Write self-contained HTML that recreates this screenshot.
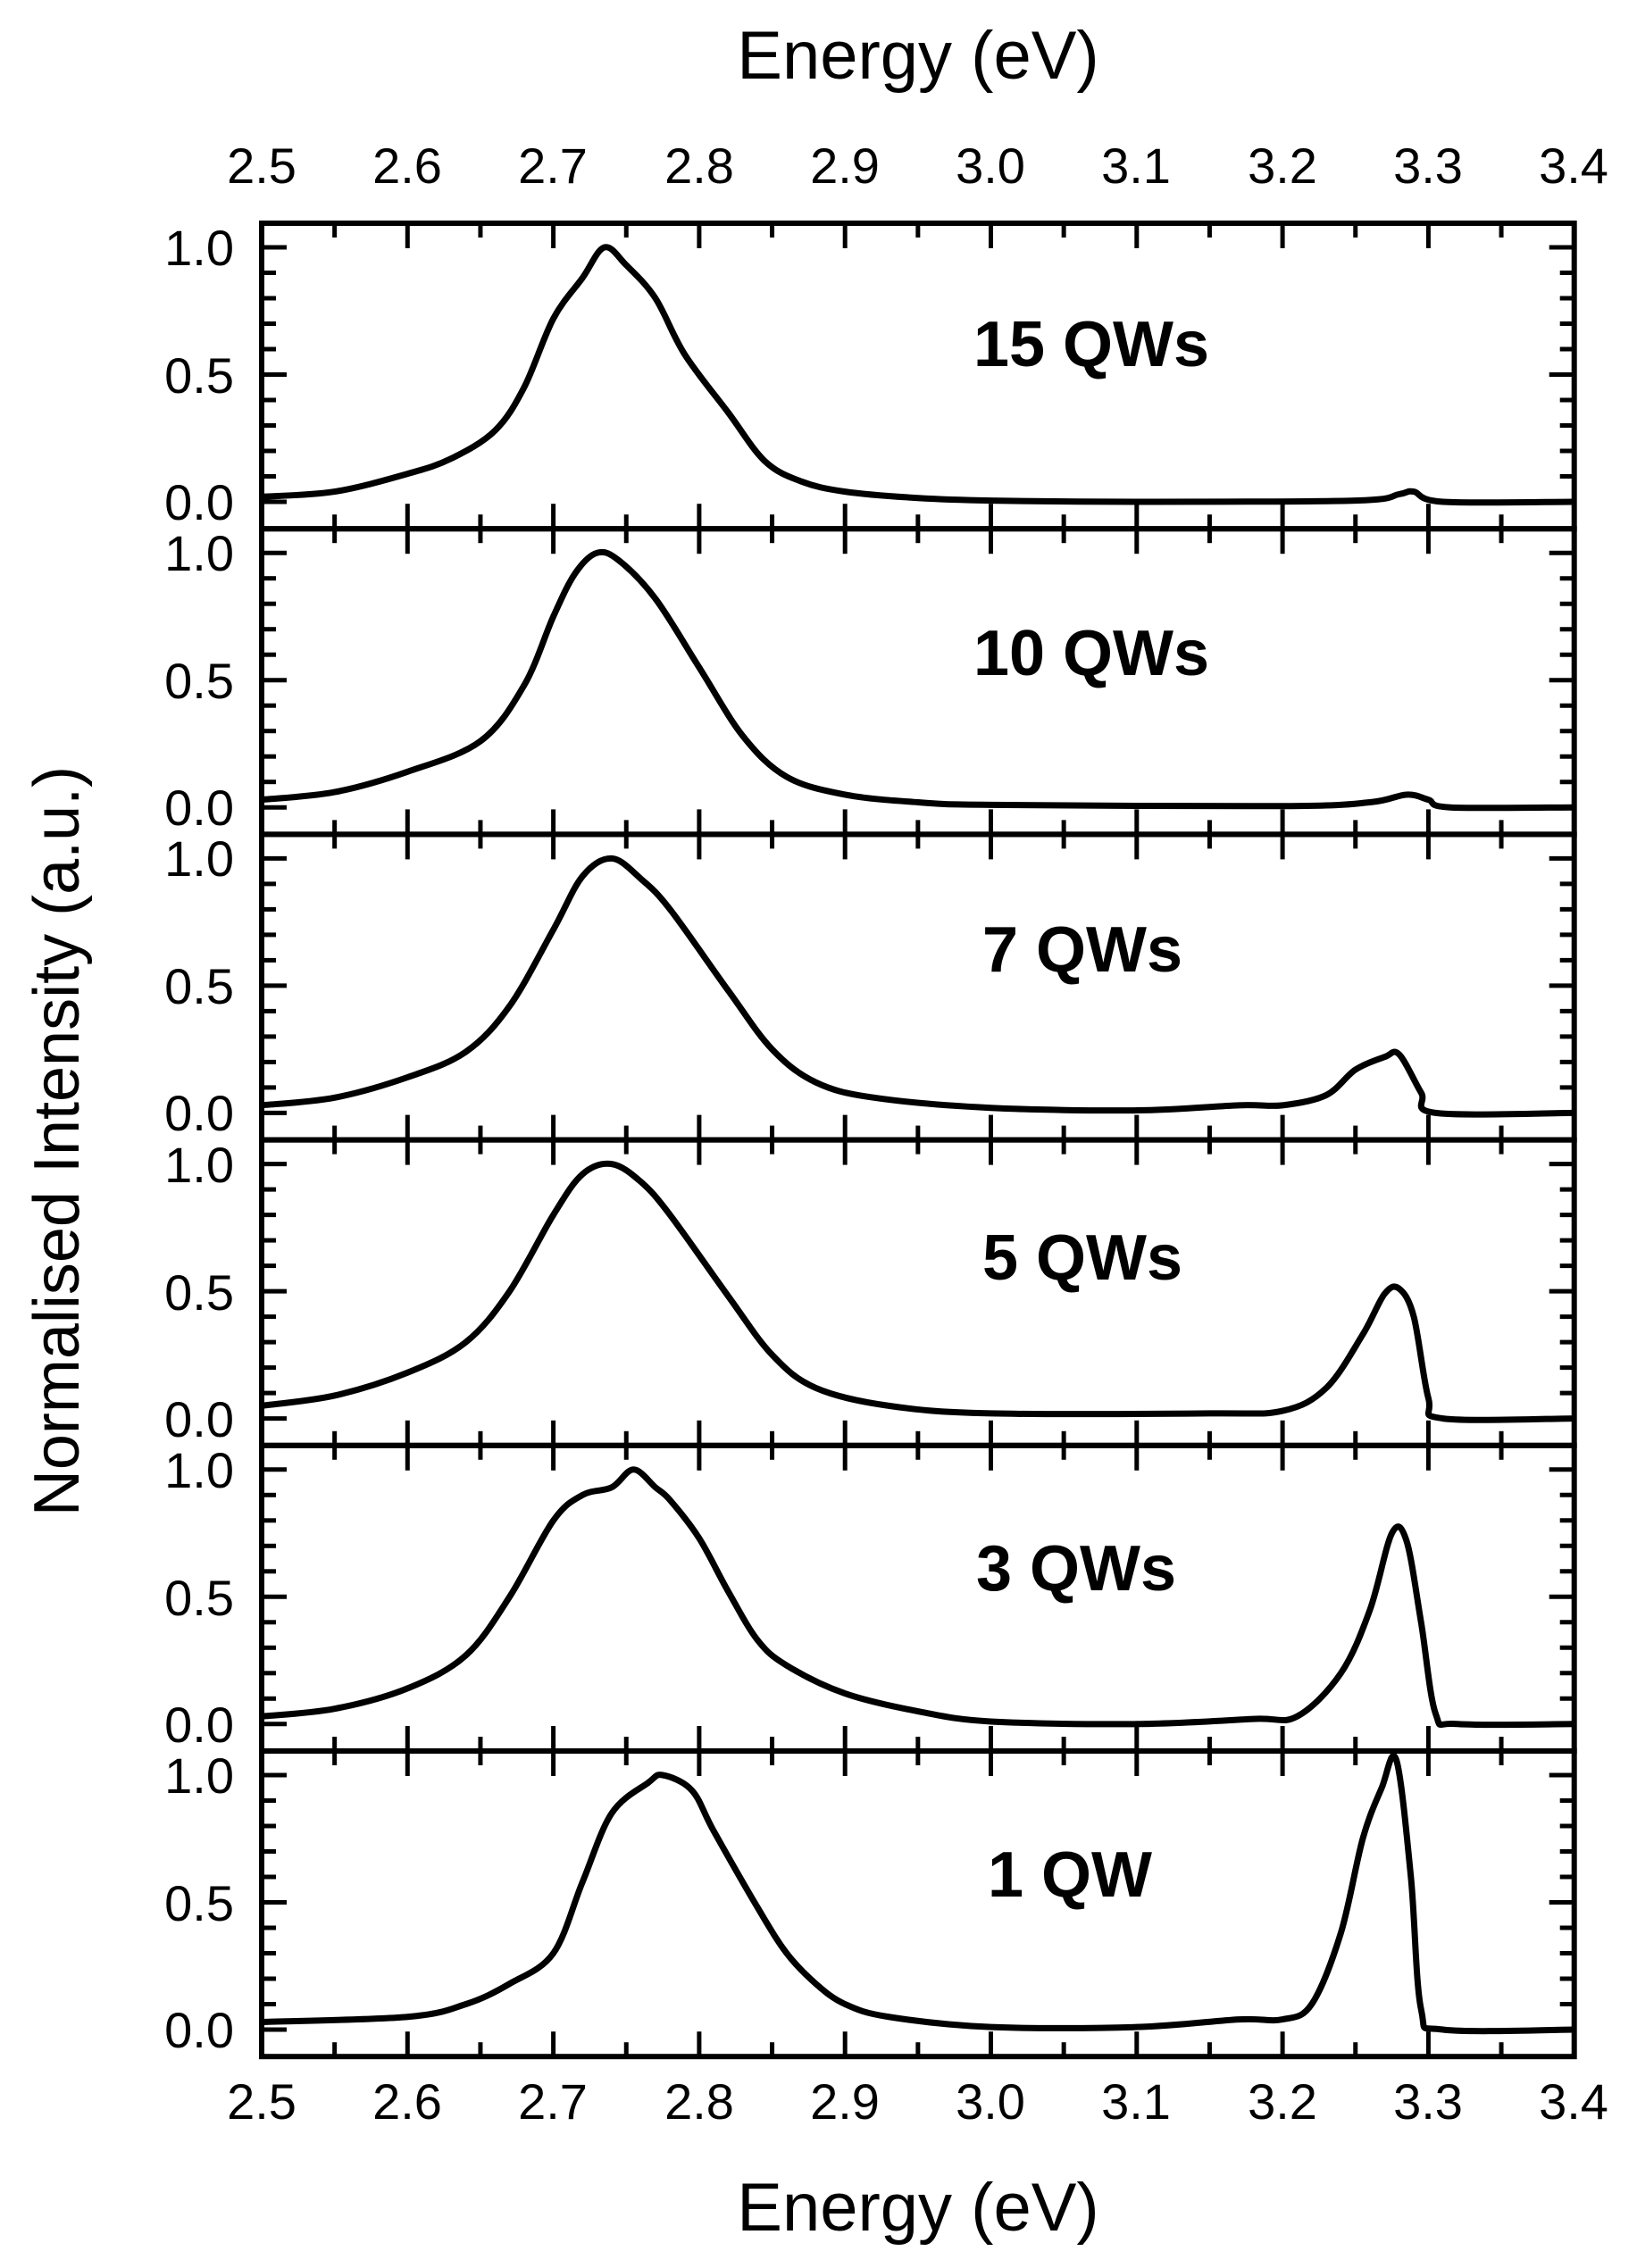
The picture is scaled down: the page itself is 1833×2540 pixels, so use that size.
<!DOCTYPE html>
<html><head><meta charset="utf-8"><style>
html,body{margin:0;padding:0;background:#fff}
svg{display:block}
text{font-family:"Liberation Sans",Arial,sans-serif;fill:#000}
</style></head><body>
<svg id="s" width="1833" height="2540" viewBox="0 0 1833 2540" xmlns="http://www.w3.org/2000/svg">
<rect width="1833" height="2540" fill="#fff"/>
<text x="1028" y="88" font-size="76" text-anchor="middle">Energy (eV)</text>
<text x="1028" y="2498" font-size="76" text-anchor="middle">Energy (eV)</text>
<text transform="translate(88,1278) rotate(-90)" font-size="72" text-anchor="middle">Normalised Intensity (a.u.)</text>
<g id="xl" font-size="56" text-anchor="middle">
<text x="293" y="205">2.5</text><text x="456" y="205">2.6</text><text x="619" y="205">2.7</text><text x="783" y="205">2.8</text><text x="946" y="205">2.9</text><text x="1109" y="205">3.0</text><text x="1272" y="205">3.1</text><text x="1436" y="205">3.2</text><text x="1599" y="205">3.3</text><text x="1762" y="205">3.4</text>
<text x="293" y="2373">2.5</text><text x="456" y="2373">2.6</text><text x="619" y="2373">2.7</text><text x="783" y="2373">2.8</text><text x="946" y="2373">2.9</text><text x="1109" y="2373">3.0</text><text x="1272" y="2373">3.1</text><text x="1436" y="2373">3.2</text><text x="1599" y="2373">3.3</text><text x="1762" y="2373">3.4</text>
</g>
<g font-size="56" text-anchor="end">
<text x="262" y="297">1.0</text><text x="262" y="440">0.5</text><text x="262" y="582">0.0</text>
<text x="262" y="639">1.0</text><text x="262" y="782">0.5</text><text x="262" y="924">0.0</text>
<text x="262" y="981">1.0</text><text x="262" y="1124">0.5</text><text x="262" y="1266">0.0</text>
<text x="262" y="1324">1.0</text><text x="262" y="1467">0.5</text><text x="262" y="1609">0.0</text>
<text x="262" y="1666">1.0</text><text x="262" y="1809">0.5</text><text x="262" y="1951">0.0</text>
<text x="262" y="2008">1.0</text><text x="262" y="2151">0.5</text><text x="262" y="2293">0.0</text>
</g>
<g font-size="72" font-weight="bold" text-anchor="middle">
<text x="1222" y="410">15 QWs</text>
<text x="1222" y="756">10 QWs</text>
<text x="1212" y="1088">7 QWs</text>
<text x="1212" y="1433">5 QWs</text>
<text x="1205" y="1781">3 QWs</text>
<text x="1198" y="2124">1 QW</text>
</g>
<g id="g"></g>
</svg>
<script>
(function(){
var X0=293,SX=1633,T0=250,PH=342.2;
function xp(v){return X0+(v-2.5)*SX;}
var NS='http://www.w3.org/2000/svg';
var g=document.getElementById('g');
function el(tag,attrs){var n=document.createElementNS(NS,tag);for(var k in attrs)n.setAttribute(k,attrs[k]);g.appendChild(n);}
var data=[
[[2.5,.02],[2.55,.04],[2.6,.11],[2.63,.17],[2.66,.28],[2.68,.45],[2.70,.72],[2.72,.88],[2.735,1.0],[2.75,.93],[2.77,.80],[2.79,.58],[2.82,.35],[2.845,.16],[2.87,.08],[2.9,.04],[2.95,.015],[3.0,.005],[3.1,0],[3.25,.005],[3.28,.03],[3.29,.04],[3.31,0],[3.4,0]],
[[2.5,.03],[2.55,.06],[2.6,.14],[2.65,.26],[2.68,.48],[2.70,.75],[2.715,.92],[2.73,1.0],[2.745,.97],[2.77,.82],[2.80,.55],[2.83,.28],[2.86,.12],[2.9,.05],[2.95,.02],[3.0,.01],[3.2,.005],[3.26,.02],[3.285,.05],[3.30,.03],[3.315,0],[3.4,0]],
[[2.5,.03],[2.55,.06],[2.6,.14],[2.64,.24],[2.67,.42],[2.70,.72],[2.72,.93],[2.74,1.0],[2.76,.92],[2.78,.80],[2.82,.48],[2.85,.25],[2.88,.12],[2.92,.06],[3.0,.02],[3.1,.01],[3.17,.03],[3.2,.03],[3.23,.07],[3.25,.17],[3.27,.22],[3.28,.23],[3.295,.08],[3.305,0],[3.4,0]],
[[2.5,.05],[2.55,.09],[2.6,.18],[2.64,.30],[2.67,.50],[2.70,.80],[2.72,.96],[2.74,1.0],[2.76,.93],[2.78,.80],[2.82,.48],[2.85,.25],[2.88,.12],[2.93,.05],[3.0,.02],[3.15,.02],[3.2,.03],[3.23,.12],[3.255,.33],[3.27,.49],[3.28,.51],[3.29,.40],[3.30,.08],[3.31,0],[3.4,0]],
[[2.5,.03],[2.55,.06],[2.6,.14],[2.64,.27],[2.67,.50],[2.70,.80],[2.72,.90],[2.74,.93],[2.755,1.0],[2.77,.93],[2.78,.88],[2.80,.73],[2.82,.52],[2.84,.33],[2.86,.23],[2.9,.12],[2.95,.05],[3.0,.01],[3.1,0],[3.18,.02],[3.21,.03],[3.24,.2],[3.26,.45],[3.275,.75],[3.285,.72],[3.295,.40],[3.305,.04],[3.32,0],[3.4,0]],
[[2.5,.03],[2.6,.05],[2.64,.10],[2.67,.18],[2.70,.30],[2.72,.58],[2.74,.85],[2.765,.97],[2.775,1.0],[2.795,.94],[2.81,.78],[2.84,.48],[2.86,.30],[2.88,.18],[2.9,.10],[2.93,.05],[3.0,.01],[3.1,.01],[3.17,.04],[3.2,.04],[3.22,.10],[3.24,.38],[3.255,.75],[3.268,.95],[3.278,1.06],[3.288,.6],[3.295,.08],[3.31,0],[3.4,0]]
];
for(var i=0;i<6;i++){
 var tp=T0+PH*i,bt=tp+PH,y1=tp+27,y0=tp+312,sy=y0-y1;
 for(var k=0;k<=18;k++){var x=X0+k*SX*0.05,L=(k%2==0)?28:16;
  el('line',{x1:x,y1:tp,x2:x,y2:tp+L,stroke:'#000','stroke-width':5});
  el('line',{x1:x,y1:bt,x2:x,y2:bt-L,stroke:'#000','stroke-width':5});}
 for(var k=0;k<=10;k++){var y=y0-k*sy/10,L=(k%5==0)?28:16;
  el('line',{x1:X0,y1:y,x2:X0+L,y2:y,stroke:'#000','stroke-width':5});
  el('line',{x1:X0+SX*0.9,y1:y,x2:X0+SX*0.9-L,y2:y,stroke:'#000','stroke-width':5});}
 var p=data[i].map(function(a){return [xp(a[0]),y0-a[1]*sy];});
 var d='M'+p[0][0]+','+p[0][1];
 for(var j=0;j<p.length-1;j++){var a=p[Math.max(0,j-1)],b=p[j],c=p[j+1],q=p[Math.min(p.length-1,j+2)];
  d+=' C'+(b[0]+(c[0]-a[0])/6)+','+(b[1]+(c[1]-a[1])/6)+' '+(c[0]-(q[0]-b[0])/6)+','+(c[1]-(q[1]-b[1])/6)+' '+c[0]+','+c[1];}
 el('path',{d:d,fill:'none',stroke:'#000','stroke-width':7,'stroke-linejoin':'round'});
 el('rect',{x:X0,y:tp,width:SX*0.9,height:PH,fill:'none',stroke:'#000','stroke-width':6});
}
})();
</script>
</body></html>
